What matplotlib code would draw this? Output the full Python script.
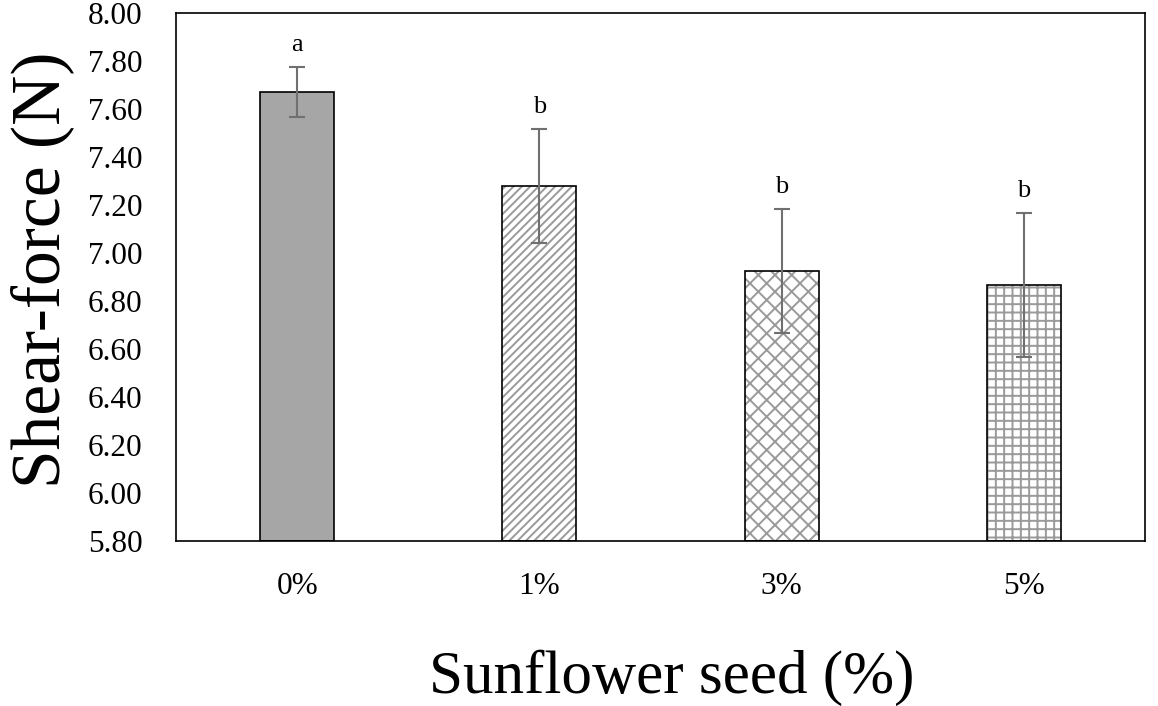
import matplotlib
matplotlib.use("Agg")
import matplotlib.pyplot as plt
import numpy as np

categories = ["0%", "1%", "3%", "5%"]
means = [7.67, 7.28, 6.925, 6.865]
errors = [0.105, 0.237, 0.257, 0.30]
letters = ["a", "b", "b", "b"]
yticks = [5.80, 6.00, 6.20, 6.40, 6.60, 6.80, 7.00, 7.20, 7.40, 7.60, 7.80, 8.00]

hatches = [None, "////", "xx", "++"]
fills = ["#a6a6a6", "white", "white", "white"]

plt.rcParams['font.family'] = ['Liberation Serif', 'DejaVu Serif']
plt.rcParams['hatch.linewidth'] = 1.4
plt.rcParams['hatch.color'] = '#9a9a9a'

fig = plt.figure(figsize=(11.58, 7.06), dpi=100)
ax = fig.add_axes([176/1158, 165/706, (1145-176)/1158, (541-13)/706])

x = np.arange(len(categories))
w = 0.305
for i in range(len(categories)):
    if hatches[i]:
        ax.bar(x[i], means[i] - 5.8, bottom=5.8, width=w, color=fills[i],
               edgecolor='#9a9a9a', hatch=hatches[i], linewidth=0, zorder=2)
    else:
        ax.bar(x[i], means[i] - 5.8, bottom=5.8, width=w, color=fills[i],
               linewidth=0, zorder=2)
    ax.bar(x[i], means[i] - 5.8, bottom=5.8, width=w, fill=False,
           edgecolor='black', linewidth=1.2, zorder=3)

ax.errorbar(x, means, yerr=errors, fmt='none', ecolor='#707070',
            elinewidth=1.5, capsize=5.5, capthick=1.5, zorder=4)

for i in range(len(categories)):
    ax.annotate(letters[i], (x[i], means[i] + errors[i]), xytext=(0, 8),
                textcoords='offset points', ha='center', va='bottom', fontsize=19)

ax.set_xlim(-0.5, len(categories) - 0.5)
ax.set_ylim(5.8, 8.0)
ax.set_yticks(yticks)
ax.set_yticklabels([f"{v:.2f}" for v in yticks])
ax.set_xticks(x)
ax.set_xticklabels(categories)
ax.tick_params(axis='both', length=0, labelsize=22.5, pad=22)
ax.tick_params(axis='y', pad=24)
for s in ax.spines.values():
    s.set_linewidth(1.2)

ax.set_ylabel("Shear-force (N)", fontsize=50, labelpad=10)
ax.set_xlabel("Sunflower seed (%)", fontsize=44, labelpad=35)
ax.xaxis.label.set_x(0.512)
ax.yaxis.label.set_y(0.513)

fig.savefig("out.png", dpi=100)
